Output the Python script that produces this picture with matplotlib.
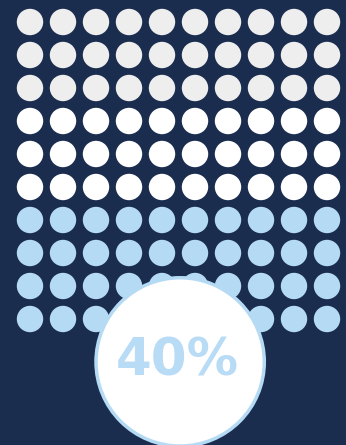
import matplotlib.pyplot as plt
from matplotlib.patches import Circle

# dot grid: 10 x 10, rows from top
n_cols = 10
row_groups = ['gray', 'gray', 'gray', 'white', 'white', 'white',
              'blue', 'blue', 'blue', 'blue']
group_colors = {'gray': '#eeeeee', 'white': '#ffffff', 'blue': '#b5daf4'}
highlight_pct = 40
label = '40%'

bg = '#1b2d4f'

fig = plt.figure(figsize=(3.46, 4.45), dpi=100)
fig.patch.set_facecolor(bg)
ax = fig.add_axes([0, 0, 1, 1])
ax.set_facecolor(bg)

for r, grp in enumerate(row_groups):
    for c in range(n_cols):
        ax.add_patch(Circle((c, r), 0.40, color=group_colors[grp], lw=0))

# big badge
ax.add_patch(Circle((4.55, 10.3), 2.55, facecolor='white',
                    edgecolor='#b5daf4', lw=2.5, zorder=3))
ax.text(4.45, 10.3, label, ha='center', va='center', fontsize=37,
        fontweight='bold', color='#b8dcf5', family='DejaVu Sans', zorder=4)

ax.set_xlim(-30 / 33, (346 - 30) / 33)
ax.set_ylim((445 - 22) / 33, -22 / 33)
ax.axis('off')

fig.savefig('out.png', dpi=100, facecolor=bg)
